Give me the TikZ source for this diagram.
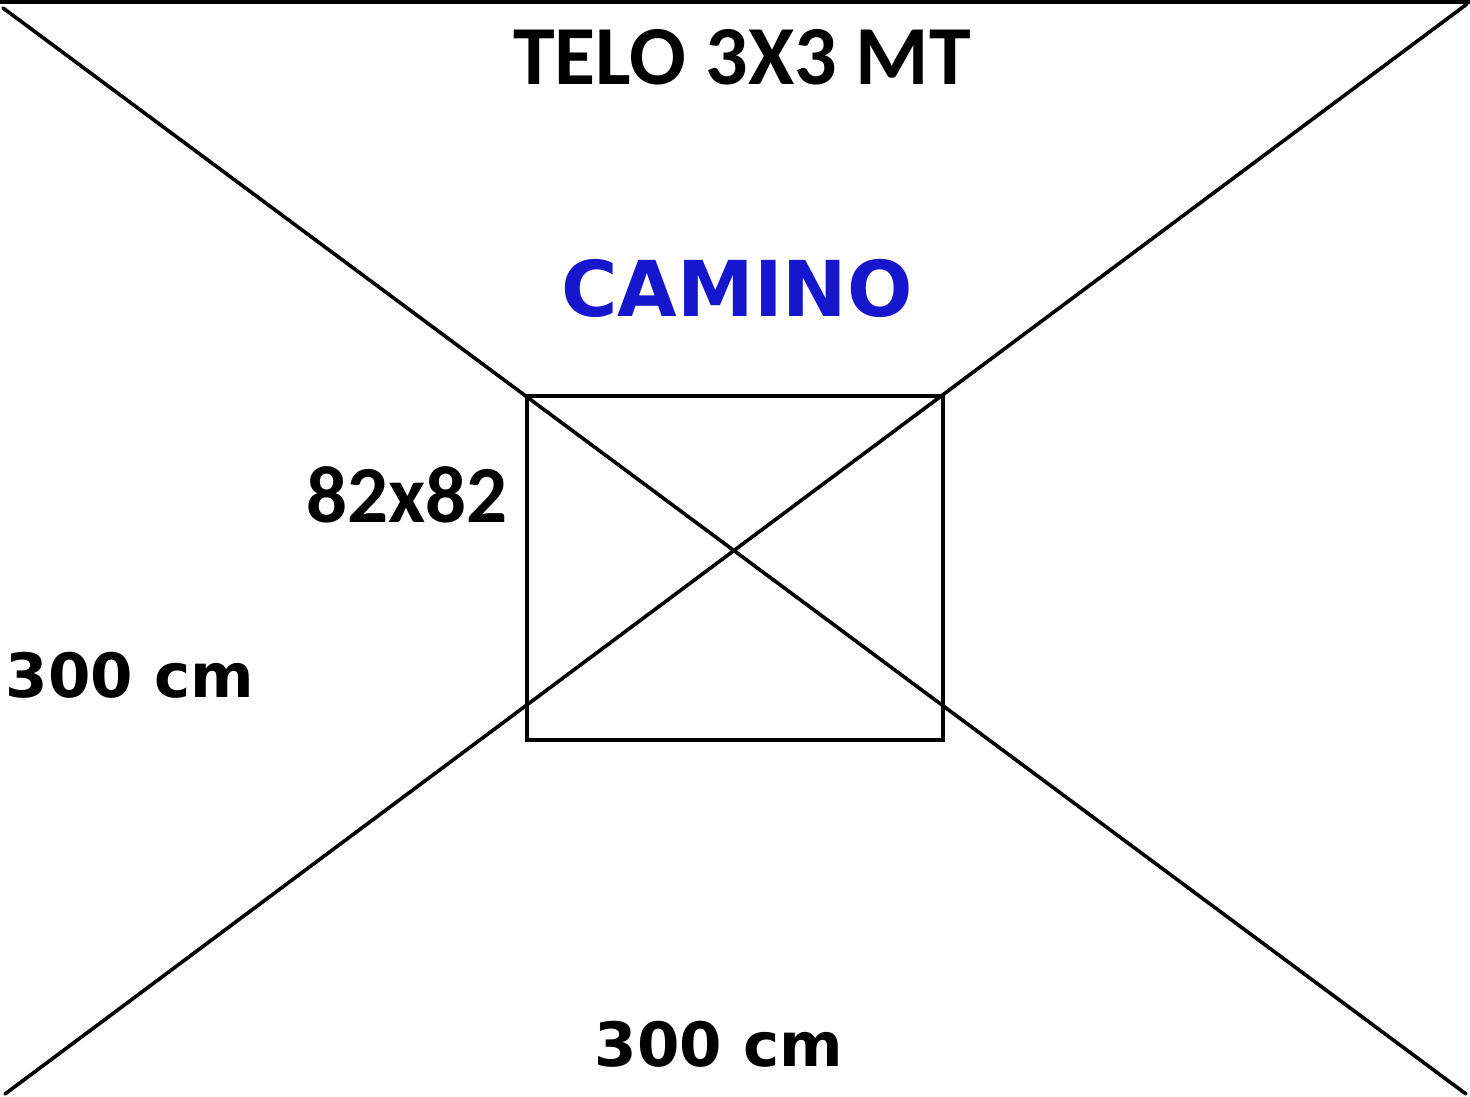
\documentclass[tikz,border=0pt]{standalone}
\usepackage{fontspec}
\setmainfont{DejaVu Sans}
\newfontfamily\calfont{Carlito}
\definecolor{caminoblue}{RGB}{22,22,204}

\begin{document}
\begin{tikzpicture}[x=0.5pt,y=-0.5pt,
  edge/.style={line width=1.8pt,line cap=round},
  txt/.style={inner sep=0pt,anchor=base}]

\useasboundingbox (0,0) rectangle (1470,1096);


% Part A: Sheet


% Corners
\coordinate (tl) at (3,8);
\coordinate (tr) at (1467,4);
\coordinate (bl) at (5,1094);
\coordinate (br) at (1466,1094);

% Top edge
\draw[line width=2.2pt] (0,1.5)--(1470,1.5);

% Diagonals
\draw[edge] (tl)--(br);
\draw[edge] (tr)--(bl);


% Part B: Chimney hole


\coordinate (hole nw) at (527,396);
\coordinate (hole se) at (943,740);
\draw[line width=2pt] (hole nw) rectangle (hole se);


% Part C: Labels


\node[txt,font=\calfont\bfseries\fontsize{42}{42}\selectfont] (title) at (742,85) {TELO 3X3 MT};
\node[txt,font=\bfseries\fontsize{38.5}{38.5}\selectfont,text=caminoblue] (camino) at (737,316) {CAMINO};
\node[txt,font=\calfont\bfseries\fontsize{40.5}{40.5}\selectfont] (size) at (407,522) {82x82};
\node[txt,font=\bfseries\fontsize{30.5}{30.5}\selectfont] (side) at (130,697) {300 cm};
\node[txt,font=\bfseries\fontsize{30.5}{30.5}\selectfont] (base) at (719,1066) {300 cm};

\end{tikzpicture}
\end{document}
